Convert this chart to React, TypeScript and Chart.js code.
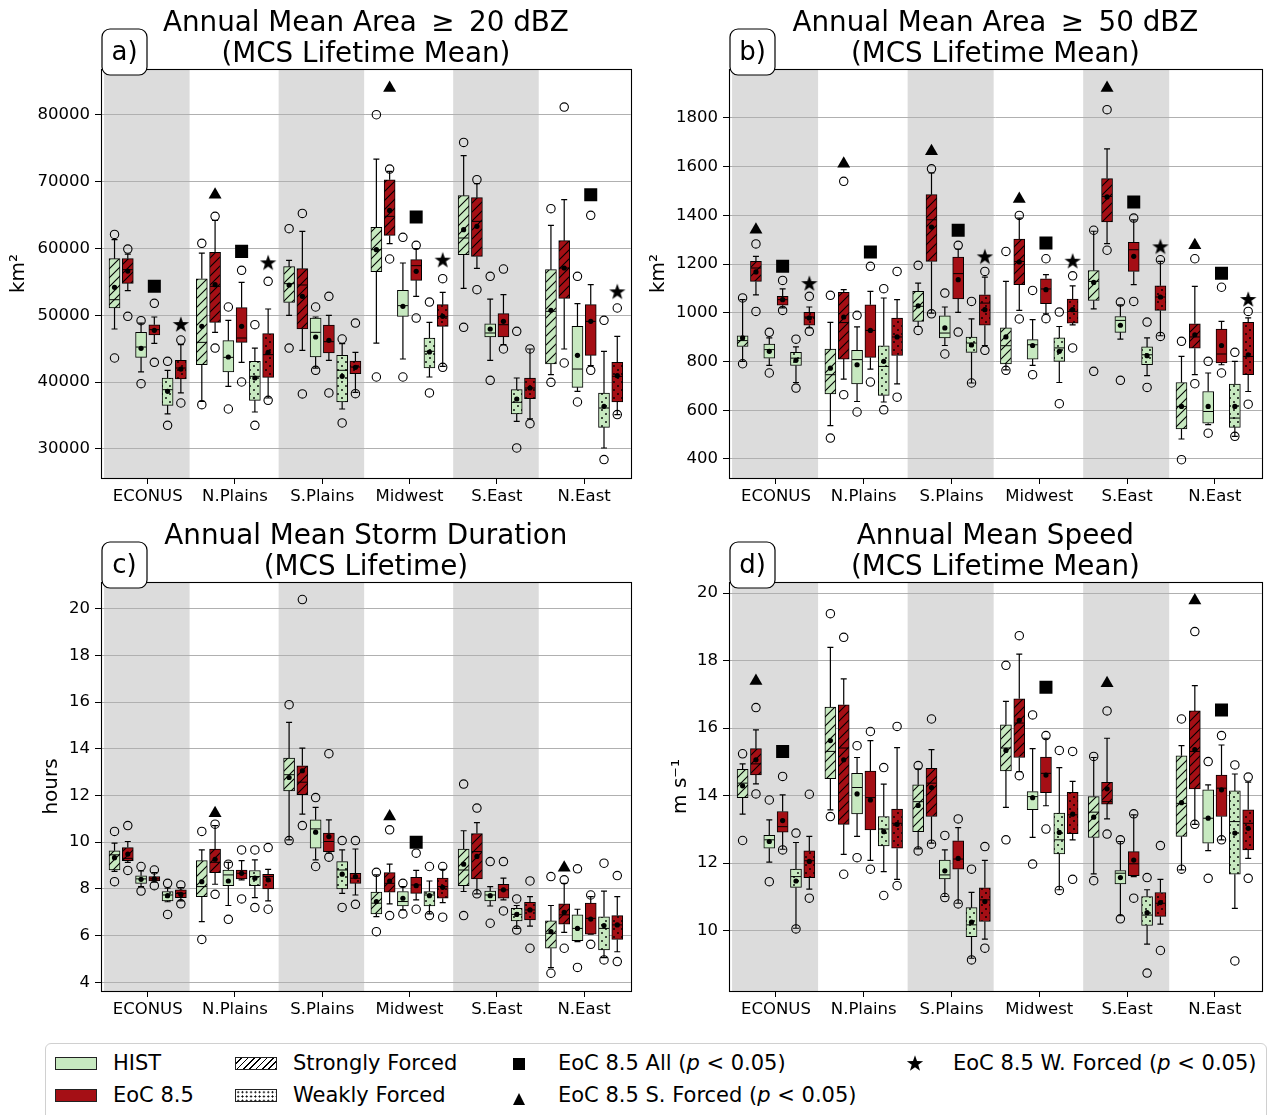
import React, { useEffect, useRef } from "react";
import { Chart, registerables } from "chart.js";

Chart.register(...registerables);
Chart.defaults.font.family = '"DejaVu Sans", sans-serif';

// ---------------- shared categories ----------------
const REGIONS = ["ECONUS", "N.Plains", "S.Plains", "Midwest", "S.East", "N.East"];
// order of the six boxes inside each region
const BOX_ROLES = ["HIST S. Forced", "EoC 8.5 S. Forced", "HIST All", "EoC 8.5 All", "HIST W. Forced", "EoC 8.5 W. Forced"];
const SHADED_REGIONS = [0, 2, 4];

// ---------------- panel a: Area >= 20 dBZ (km^2) ----------------
const A_TICKS = [30000, 40000, 50000, 60000, 70000, 80000];
const A_LO = [
  47950, 53680, 41520, 45800, 35240, 38380,
  37130, 47450, 39370, 42960, 35530, 37630,
  49990, 44760, 42110, 43260, 35980, 38480,
  45850, 60710, 43460, 52830, 40770, 42360,
  54030, 57020, 43260, 45600, 34140, 34490,
  41120, 44960, 38620, 42460, 30150, 35140,
];
const A_Q1 = [
  51090, 54780, 43710, 47050, 36530, 40470,
  42610, 48940, 41520, 45950, 37280, 40720,
  51930, 47950, 43760, 44360, 37030, 41270,
  56520, 61950, 49840, 55230, 42110, 48350,
  59060, 58810, 46750, 46750, 35240, 37530,
  42710, 52530, 39220, 44010, 33240, 37030,
];
const A_MED = [
  52330, 56820, 45250, 47850, 38870, 42110,
  45950, 54330, 43710, 46600, 40870, 44110,
  54730, 54530, 47450, 46050, 41770, 42260,
  59810, 64800, 51440, 57420, 44610, 49840,
  61560, 64050, 47350, 48590, 36980, 39120,
  50590, 57070, 41960, 49090, 36130, 40870,
];
const A_Q3 = [
  58470, 58470, 47450, 48590, 40620, 43260,
  55470, 59410, 46200, 51140, 43110, 47250,
  57270, 56970, 49590, 48540, 44010, 43160,
  63150, 70280, 53730, 58320, 46600, 51590,
  67890, 67590, 48740, 50240, 38870, 40620,
  56820, 61160, 48350, 51590, 38380, 42960,
];
const A_HI = [
  61310, 59160, 48840, 49740, 41770, 45600,
  59310, 64200, 49240, 54930, 45100, 50940,
  58220, 62550, 49740, 49990, 45750, 44460,
  73370, 71530, 57820, 59960, 48940, 53430,
  73870, 69680, 52430, 53080, 40620, 44960,
  63450, 67290, 51730, 54580, 44610, 46850,
];
const A_MEAN = [
  54180, 56620, 45060, 47750, 38620, 41960,
  48350, 54580, 43760, 48350, 40620, 44460,
  54530, 52830, 46750, 46250, 40870, 42210,
  59810, 65690, 51340, 56570, 44510, 49840,
  62800, 63300, 47950, 49090, 37480, 39120,
  50740, 57070, 44010, 49090, 36380, 40970,
];
const A_OUT_HI = [
  62100, 59910, 49190, 51790, 43110, 46300,
  60760, 64800, 51240, 56720, 48590, 55080,
  62950, 65240, 51240, 52830, 46450, 48840,
  80000, 71870, 61660, 60460, 51980, 55470,
  75860, 70280, 55820, 56920, 47600, 44960,
  65940, 81150, 55820, 64950, 49240, 51090,
];
const A_OUT_LO = [
  43610, 49840, 39770, 42960, 33540, 36880,
  36630, 45100, 35980, 40020, 33540, 37280,
  45100, 38230, 41760, 38380, 33890, 38280,
  40770, 58420, 40770, 49590, 38380, 42210,
  48200, 53830, 40270, 44960, 30150, 33790,
  39970, 42860, 37030, 41770, 28410, 35140,
];
const A_SIG_STRONG = [null, 68040, null, 84000, null, null];
const A_SIG_ALL = [54330, 59560, null, 64700, null, 68040];
const A_SIG_WEAK = [48690, 57920, null, 58320, null, 53580];

// ---------------- panel b: Area >= 50 dBZ (km^2) ----------------
const B_TICKS = [400, 600, 800, 1000, 1200, 1400, 1600, 1800];
const B_LO = [
  801, 1074, 784, 1020, 714, 938,
  537, 728, 636, 769, 634, 708,
  944, 999, 866, 1002, 712, 866,
  766, 1010, 784, 996, 714, 951,
  1016, 1284, 892, 1116, 742, 906,
  482, 746, 541, 787, 493, 677,
];
const B_Q1 = [
  862, 1129, 814, 1031, 784, 949,
  667, 810, 708, 817, 661, 825,
  965, 1211, 897, 1057, 838, 949,
  790, 1116, 810, 1038, 801, 958,
  1051, 1373, 920, 1170, 787, 1010,
  523, 855, 547, 794, 530, 746,
];
const B_MED = [
  886, 1184, 849, 1054, 814, 983,
  746, 960, 808, 928, 780, 901,
  1027, 1382, 917, 1161, 876, 1040,
  865, 1211, 869, 1098, 856, 1006,
  1129, 1478, 969, 1259, 828, 1065,
  616, 901, 595, 831, 568, 821,
];
const B_Q3 = [
  906, 1211, 872, 1068, 838, 1002,
  851, 1084, 846, 1033, 865, 979,
  1088, 1485, 988, 1229, 901, 1074,
  938, 1303, 890, 1140, 897, 1057,
  1174, 1551, 985, 1289, 860, 1111,
  714, 955, 677, 933, 708, 961,
];
const B_HI = [
  1054, 1232, 897, 1098, 860, 1024,
  961, 1095, 942, 1088, 1061, 1054,
  1122, 1574, 1024, 1262, 975, 1147,
  1129, 1389, 972, 1157, 944, 1111,
  1335, 1673, 1033, 1382, 897, 1211,
  821, 1109, 753, 965, 801, 979,
];
const B_MEAN = [
  897, 1168, 842, 1054, 805, 979,
  773, 983, 787, 928, 801, 901,
  1029, 1352, 938, 1136, 868, 1013,
  901, 1209, 866, 1095, 842, 1013,
  1125, 1476, 949, 1232, 824, 1065,
  616, 910, 616, 866, 616, 828,
];
const B_OUT_HI = [
  1061, 1283, 920, 1133, 892, 1068,
  1072, 1540, 990, 1191, 1099, 1170,
  1195, 1591, 1081, 1277, 1047, 1170,
  1252, 1400, 1092, 1222, 1003, 1152,
  1339, 1834, 1044, 1389, 962, 1218,
  883, 1222, 801, 1105, 838, 1006,
];
const B_OUT_LO = [
  791, 1006, 753, 1010, 691, 924,
  486, 664, 593, 716, 602, 654,
  928, 996, 831, 921, 712, 846,
  764, 975, 746, 976, 627, 856,
  760, 1257, 723, 1047, 694, 903,
  397, 709, 506, 753, 493, 625,
];
const B_SIG_STRONG = [1341, 1612, 1663, 1467, 1923, 1277];
const B_SIG_ALL = [1191, 1250, 1339, 1287, 1455, 1163];
const B_SIG_WEAK = [1122, null, 1232, 1214, 1273, 1057];

// ---------------- panel c: storm duration (hours) ----------------
const C_TICKS = [4, 6, 8, 10, 12, 14, 16, 18, 20];
const C_LO = [
  8.75, 9.14, 8.10, 8.29, 7.45, 7.49,
  6.60, 8.20, 7.29, 8.39, 7.63, 7.49,
  10.10, 11.20, 9.24, 9.53, 7.81, 7.74,
  6.81, 7.36, 7.10, 7.53, 6.93, 7.41,
  7.89, 7.79, 7.27, 7.53, 6.31, 6.41,
  4.63, 6.14, 5.74, 6.06, 5.06, 5.31,
];
const C_Q1 = [
  8.81, 9.21, 8.24, 8.34, 7.49, 7.63,
  7.67, 8.70, 8.14, 8.43, 8.14, 8.00,
  12.20, 12.03, 9.74, 9.60, 8.00, 8.24,
  6.93, 7.86, 7.27, 7.81, 7.27, 7.60,
  8.14, 8.43, 7.49, 7.60, 6.63, 6.67,
  5.46, 6.49, 5.79, 6.06, 5.39, 5.84,
];
const C_MED = [
  9.46, 9.31, 8.43, 8.43, 7.74, 7.81,
  8.10, 9.14, 8.60, 8.67, 8.53, 8.53,
  12.89, 12.57, 10.57, 10.03, 8.81, 8.46,
  7.39, 8.24, 7.46, 8.17, 7.74, 8.10,
  8.81, 9.60, 7.74, 7.96, 6.91, 7.10,
  6.10, 6.89, 6.31, 6.74, 6.31, 6.46,
];
const C_Q3 = [
  9.63, 9.77, 8.56, 8.53, 7.89, 7.96,
  9.21, 9.71, 8.81, 8.81, 8.79, 8.63,
  13.60, 13.27, 10.96, 10.39, 9.17, 8.67,
  7.86, 8.70, 7.89, 8.50, 7.89, 8.46,
  9.71, 10.37, 7.91, 8.20, 7.17, 7.43,
  6.63, 7.36, 6.89, 7.39, 6.81, 6.86,
];
const C_HI = [
  9.96, 10.03, 8.77, 8.70, 8.03, 8.06,
  9.67, 10.71, 9.14, 9.21, 9.24, 8.84,
  15.13, 14.03, 11.49, 10.96, 9.67, 9.71,
  8.60, 9.06, 8.10, 8.79, 8.34, 8.84,
  10.49, 10.84, 8.10, 8.46, 7.29, 7.67,
  7.29, 8.24, 7.13, 7.67, 7.91, 7.67,
];
const C_MEAN = [
  9.34, 9.49, 8.41, 8.43, 7.71, 7.77,
  8.31, 9.27, 8.34, 8.67, 8.46, 8.39,
  12.77, 13.06, 10.43, 10.24, 8.63, 8.53,
  7.46, 8.34, 7.60, 8.14, 7.71, 8.07,
  9.06, 9.39, 7.71, 7.96, 6.91, 7.10,
  6.17, 7.00, 6.31, 6.71, 6.43, 6.46,
];
const C_OUT_HI = [
  10.46, 10.71, 8.96, 8.81, 8.24, 8.17,
  10.46, 10.77, 9.06, 9.67, 9.67, 9.77,
  15.89, 20.39, 11.91, 13.79, 10.07, 10.07,
  8.71, 10.53, 8.24, 9.53, 8.96, 8.96,
  12.49, 11.46, 9.17, 9.17, 7.57, 8.34,
  8.53, 8.39, 8.86, 7.74, 9.10, 8.57,
];
const C_OUT_LO = [
  8.31, 8.79, 7.91, 8.14, 6.91, 7.36,
  5.84, 7.77, 6.70, 7.57, 7.20, 7.13,
  10.07, 10.71, 8.96, 9.36, 7.21, 7.34,
  6.17, 6.86, 6.93, 7.13, 6.86, 6.79,
  6.86, 7.79, 6.53, 7.06, 6.24, 5.46,
  4.39, 5.46, 4.64, 5.63, 4.96, 4.89,
];
const C_SIG_STRONG = [null, 11.24, null, 11.1, null, 8.91];
const C_SIG_ALL = [null, null, null, 10.0, null, null];
const C_SIG_WEAK = [null, null, null, null, null, null];

// ---------------- panel d: speed (m s^-1) ----------------
const D_TICKS = [10, 12, 14, 16, 18, 20];
const D_LO = [
  13.45, 14.35, 12.03, 12.41, 10.07, 11.23,
  13.58, 12.26, 12.79, 12.08, 11.75, 11.52,
  12.42, 12.59, 11.01, 10.81, 9.18, 9.75,
  13.65, 14.71, 12.76, 13.70, 11.21, 12.69,
  11.68, 13.31, 10.44, 11.60, 9.60, 10.19,
  11.80, 13.15, 12.37, 12.69, 10.66, 12.14,
];
const D_Q1 = [
  13.94, 14.61, 12.44, 12.92, 11.28, 11.57,
  14.50, 13.15, 13.46, 12.98, 12.51, 12.44,
  12.93, 13.38, 11.53, 11.82, 9.82, 10.27,
  14.73, 15.13, 13.58, 14.09, 12.27, 12.87,
  12.76, 13.75, 11.38, 11.63, 10.15, 10.42,
  12.79, 14.20, 12.59, 13.38, 11.67, 12.39,
];
const D_MED = [
  14.37, 14.94, 12.69, 13.08, 11.60, 12.07,
  15.31, 15.41, 14.24, 13.94, 13.01, 13.18,
  13.82, 14.37, 11.65, 12.12, 10.17, 10.91,
  15.41, 16.15, 13.97, 14.66, 12.69, 13.43,
  13.51, 13.82, 11.70, 11.98, 10.46, 10.81,
  13.77, 15.31, 13.33, 14.22, 13.23, 13.18,
];
const D_Q3 = [
  14.78, 15.39, 12.82, 13.53, 11.82, 12.36,
  16.62, 16.69, 14.66, 14.73, 13.38, 13.60,
  14.32, 14.81, 12.09, 12.66, 10.68, 11.27,
  16.10, 16.87, 14.12, 15.14, 13.48, 14.10,
  13.97, 14.39, 11.78, 12.34, 11.01, 11.13,
  15.18, 16.51, 14.17, 14.61, 14.14, 13.58,
];
const D_HI = [
  14.94, 15.95, 13.28, 14.02, 12.61, 12.79,
  18.39, 17.46, 15.13, 15.63, 14.34, 15.42,
  14.79, 15.36, 12.39, 13.05, 11.13, 12.08,
  16.79, 18.19, 15.39, 15.70, 14.83, 14.42,
  15.13, 15.70, 12.64, 13.43, 11.21, 11.52,
  15.48, 17.26, 14.32, 15.50, 14.64, 14.40,
];
const D_MEAN = [
  14.29, 15.06, 12.64, 13.26, 11.47, 12.05,
  15.63, 15.06, 14.05, 13.87, 12.93, 13.15,
  13.71, 14.24, 11.77, 12.14, 10.25, 10.86,
  15.34, 16.23, 13.94, 14.61, 12.91, 13.45,
  13.36, 14.20, 11.57, 12.09, 10.53, 10.83,
  13.79, 15.36, 13.33, 14.17, 12.89, 13.03,
];
const D_OUT_HI = [
  15.24, 16.61, 13.87, 14.57, 12.89, 14.04,
  19.39, 18.69, 15.48, 15.90, 14.83, 16.05,
  14.89, 16.27, 12.82, 13.31, 11.82, 12.49,
  17.86, 18.74, 16.39, 15.78, 15.34, 15.31,
  15.16, 16.51, 12.69, 13.46, 11.57, 12.52,
  16.27, 18.86, 15.01, 15.78, 14.91, 14.55,
];
const D_OUT_LO = [
  12.67, 14.05, 11.45, 12.39, 10.05, 10.96,
  13.38, 11.67, 12.16, 11.82, 11.04, 11.33,
  12.36, 12.56, 10.98, 10.79, 9.13, 9.48,
  12.69, 14.59, 11.97, 13.01, 11.19, 11.52,
  11.48, 12.86, 10.35, 10.96, 8.74, 9.41,
  11.82, 13.15, 11.55, 12.69, 9.10, 11.55,
];
const D_SIG_STRONG = [17.4, null, null, null, 17.33, 19.78];
const D_SIG_ALL = [15.31, null, null, 17.21, null, 16.54];
const D_SIG_WEAK = [null, null, null, null, null, null];

// ---------------- styling ----------------
const HIST_COLOR = "#c7e9c0";
const EOC_COLOR = "#a50f15";
const BAND_COLOR = "#dcdcdc";
const GRID_COLOR = "#b0b0b0";
const BOX_OFFSETS = [-0.38, -0.228, -0.076, 0.076, 0.228, 0.38];
const X_MIN = -0.535;
const X_MAX = 5.535;
const X_AXIS_H = 32;

const PANELS: any[] = [
  {
    id: "a", label: "a)", title: ["Annual Mean Area \u2009\u2265\u2009 20 dBZ", "(MCS Lifetime Mean)"], yTitle: "km\u00b2",
    yMin: 25660, yMax: 86840, ticks: A_TICKS,
    lo: A_LO, q1: A_Q1, med: A_MED, q3: A_Q3, hi: A_HI, mean: A_MEAN, outHi: A_OUT_HI, outLo: A_OUT_LO,
    sigStrong: A_SIG_STRONG, sigAll: A_SIG_ALL, sigWeak: A_SIG_WEAK,
    left: 0, top: 0, w: 640, h: 515, area: { l: 101, t: 69, r: 633, b: 478 }, yTitlePad: 7,
  },
  {
    id: "b", label: "b)", title: ["Annual Mean Area \u2009\u2265\u2009 50 dBZ", "(MCS Lifetime Mean)"], yTitle: "km\u00b2",
    yMin: 322, yMax: 2001, ticks: B_TICKS,
    lo: B_LO, q1: B_Q1, med: B_MED, q3: B_Q3, hi: B_HI, mean: B_MEAN, outHi: B_OUT_HI, outLo: B_OUT_LO,
    sigStrong: B_SIG_STRONG, sigAll: B_SIG_ALL, sigWeak: B_SIG_WEAK,
    left: 640, top: 0, w: 631, h: 515, area: { l: 89, t: 69, r: 622, b: 478 }, yTitlePad: 7,
  },
  {
    id: "c", label: "c)", title: ["Annual Mean Storm Duration", "(MCS Lifetime)"], yTitle: "hours",
    yMin: 3.63, yMax: 21.14, ticks: C_TICKS,
    lo: C_LO, q1: C_Q1, med: C_MED, q3: C_Q3, hi: C_HI, mean: C_MEAN, outHi: C_OUT_HI, outLo: C_OUT_LO,
    sigStrong: C_SIG_STRONG, sigAll: C_SIG_ALL, sigWeak: C_SIG_WEAK,
    left: 0, top: 515, w: 640, h: 520, area: { l: 101, t: 67, r: 633, b: 476 }, yTitlePad: 40,
  },
  {
    id: "d", label: "d)", title: ["Annual Mean Speed", "(MCS Lifetime Mean)"], yTitle: "m s\u207b\u00b9",
    yMin: 8.21, yMax: 20.33, ticks: D_TICKS,
    lo: D_LO, q1: D_Q1, med: D_MED, q3: D_Q3, hi: D_HI, mean: D_MEAN, outHi: D_OUT_HI, outLo: D_OUT_LO,
    sigStrong: D_SIG_STRONG, sigAll: D_SIG_ALL, sigWeak: D_SIG_WEAK,
    left: 640, top: 515, w: 631, h: 520, area: { l: 89, t: 67, r: 622, b: 476 }, yTitlePad: 29,
  },
];

// ---------------- patterns & markers ----------------
function makeHatch(ctx: CanvasRenderingContext2D, base: string) {
  const s = 9;
  const c = document.createElement("canvas");
  c.width = s; c.height = s;
  const g = c.getContext("2d")!;
  g.fillStyle = base; g.fillRect(0, 0, s, s);
  g.strokeStyle = "#000"; g.lineWidth = 1.1;
  g.beginPath();
  g.moveTo(-1, s + 1); g.lineTo(s + 1, -1);
  g.moveTo(-2, 2); g.lineTo(2, -2);
  g.moveTo(s - 2, s + 2); g.lineTo(s + 2, s - 2);
  g.stroke();
  return ctx.createPattern(c, "repeat");
}
function makeDots(ctx: CanvasRenderingContext2D, base: string) {
  const s = 8;
  const c = document.createElement("canvas");
  c.width = s; c.height = s;
  const g = c.getContext("2d")!;
  g.fillStyle = base; g.fillRect(0, 0, s, s);
  g.fillStyle = "#000";
  [[2, 2], [6, 6]].forEach(([x, y]) => { g.beginPath(); g.arc(x, y, 0.95, 0, Math.PI * 2); g.fill(); });
  return ctx.createPattern(c, "repeat");
}
function makeStar() {
  const c = document.createElement("canvas");
  c.width = 20; c.height = 20;
  const g = c.getContext("2d")!;
  g.beginPath();
  for (let i = 0; i < 10; i++) {
    const R = i % 2 === 0 ? 8.6 : 3.4;
    const a = -Math.PI / 2 + (i * Math.PI) / 5;
    const px = 10 + R * Math.cos(a), py = 10.8 + R * Math.sin(a);
    if (i === 0) g.moveTo(px, py); else g.lineTo(px, py);
  }
  g.closePath();
  g.fillStyle = "#000"; g.fill();
  return c;
}

// ---------------- plugins ----------------
const boxPartsPlugin = {
  id: "boxParts",
  afterDatasetDraw(chart: any, args: any) {
    const ds = chart.data.datasets[args.index];
    if (!ds.boxStats) return;
    const xs = chart.scales.x, ys = chart.scales.y, ctx = chart.ctx;
    ctx.save();
    ctx.strokeStyle = "#000";
    ds.boxStats.forEach((s: any) => {
      const px = xs.getPixelForValue(s.x);
      const y = (v: number) => ys.getPixelForValue(v);
      ctx.lineWidth = 1.2;
      ctx.beginPath();
      ctx.moveTo(px, y(s.q3)); ctx.lineTo(px, y(s.hi));
      ctx.moveTo(px, y(s.q1)); ctx.lineTo(px, y(s.lo));
      ctx.moveTo(px - 3, y(s.hi)); ctx.lineTo(px + 3, y(s.hi));
      ctx.moveTo(px - 3, y(s.lo)); ctx.lineTo(px + 3, y(s.lo));
      ctx.stroke();
      ctx.lineWidth = 1;
      ctx.beginPath();
      ctx.moveTo(px - 5, y(s.med)); ctx.lineTo(px + 5, y(s.med));
      ctx.stroke();
    });
    ctx.restore();
  },
};

const decorPlugin = {
  id: "decor",
  beforeDraw(chart: any) {
    const { ctx, chartArea: a } = chart;
    const xs = chart.scales.x;
    ctx.save();
    ctx.fillStyle = BAND_COLOR;
    SHADED_REGIONS.forEach((r) => {
      const x0 = xs.getPixelForValue(Math.max(X_MIN, r - 0.5));
      const x1 = xs.getPixelForValue(r + 0.48);
      ctx.fillRect(x0, a.top, x1 - x0, a.bottom - a.top);
    });
    ctx.restore();
  },
  afterDraw(chart: any, _args: any, opts: any) {
    const { ctx, chartArea: a } = chart;
    ctx.save();
    // spines
    ctx.strokeStyle = "#000"; ctx.lineWidth = 1.1;
    ctx.strokeRect(Math.round(a.left) + 0.5, Math.round(a.top) + 0.5, Math.round(a.right - a.left), Math.round(a.bottom - a.top));
    // title
    ctx.fillStyle = "#000";
    ctx.font = '27.8px "DejaVu Sans"';
    ctx.textAlign = "center"; ctx.textBaseline = "alphabetic";
    const cx = (a.left + a.right) / 2;
    ctx.fillText(opts.title[0], cx, a.top - 38);
    ctx.fillText(opts.title[1], cx, a.top - 7);
    // panel label box
    const bx = a.left + 1, by = a.top - 40, bw = 45, bh = 46;
    ctx.beginPath();
    if (ctx.roundRect) ctx.roundRect(bx, by, bw, bh, 8); else ctx.rect(bx, by, bw, bh);
    ctx.fillStyle = "#fff"; ctx.fill();
    ctx.strokeStyle = "#000"; ctx.lineWidth = 1.2; ctx.stroke();
    ctx.fillStyle = "#000"; ctx.textBaseline = "middle";
    ctx.font = '26px "DejaVu Sans"';
    ctx.fillText(opts.label, bx + bw / 2, by + bh / 2 + 1);
    ctx.restore();
  },
};

// ---------------- chart config ----------------
function buildConfig(canvas: HTMLCanvasElement, p: any) {
  const ctx = canvas.getContext("2d")!;
  const datasets: any[] = [];
  for (let k = 0; k < 6; k++) {
    const base = k % 2 === 1 ? EOC_COLOR : HIST_COLOR;
    const fill = k < 2 ? makeHatch(ctx, base) : k < 4 ? base : makeDots(ctx, base);
    const stats = REGIONS.map((_, r) => {
      const i = r * 6 + k;
      return { x: r + BOX_OFFSETS[k], lo: p.lo[i], q1: p.q1[i], med: p.med[i], q3: p.q3[i], hi: p.hi[i] };
    });
    datasets.push({
      type: "bar",
      label: BOX_ROLES[k],
      data: stats.map((s) => ({ x: s.x, y: [s.q1, s.q3] })),
      backgroundColor: fill,
      borderColor: "#000",
      borderWidth: 1,
      borderSkipped: false,
      barThickness: 11,
      grouped: false,
      order: 5,
      boxStats: stats,
    });
  }
  const means: any[] = [];
  const outliers: any[] = [];
  REGIONS.forEach((_, r) => {
    for (let k = 0; k < 6; k++) {
      const i = r * 6 + k;
      const x = r + BOX_OFFSETS[k];
      means.push({ x, y: p.mean[i] });
      outliers.push({ x, y: p.outHi[i] });
      outliers.push({ x, y: p.outLo[i] });
    }
  });
  const markerPts = (arr: any[], k: number) =>
    arr.map((v, r) => (v == null ? null : { x: r + BOX_OFFSETS[k], y: v })).filter((d) => d);

  datasets.push({
    type: "scatter", label: "outliers", data: outliers, order: 2,
    pointRadius: 4.2, pointBorderWidth: 1.1, pointBorderColor: "#000", pointBackgroundColor: "rgba(0,0,0,0)",
  });
  datasets.push({
    type: "scatter", label: "means", data: means, order: 1,
    pointRadius: 2.6, pointBorderWidth: 0, pointBackgroundColor: "#000",
  });
  datasets.push({
    type: "scatter", label: "EoC 8.5 S. Forced (p < 0.05)", data: markerPts(p.sigStrong, 1), order: 1,
    pointStyle: "triangle", pointRadius: 7.5, pointBorderWidth: 0, pointBackgroundColor: "#000",
  });
  datasets.push({
    type: "scatter", label: "EoC 8.5 All (p < 0.05)", data: markerPts(p.sigAll, 3), order: 1,
    pointStyle: "rect", pointRadius: 9.2, pointBorderWidth: 0, pointBackgroundColor: "#000",
  });
  datasets.push({
    type: "scatter", label: "EoC 8.5 W. Forced (p < 0.05)", data: markerPts(p.sigWeak, 5), order: 1,
    pointStyle: makeStar(), pointRadius: 9, pointBorderWidth: 0, pointBackgroundColor: "#000",
  });

  return {
    type: "bar",
    data: { datasets },
    plugins: [decorPlugin, boxPartsPlugin],
    options: {
      responsive: false,
      animation: false,
      devicePixelRatio: 1,
      events: [],
      layout: {
        padding: { left: 0, top: p.area.t, right: p.w - p.area.r, bottom: p.h - p.area.b - X_AXIS_H },
      },
      plugins: {
        legend: { display: false },
        tooltip: { enabled: false },
        title: { display: false },
        decor: { title: p.title, label: p.label },
      },
      scales: {
        x: {
          type: "linear",
          min: X_MIN,
          max: X_MAX,
          offset: false,
          afterBuildTicks: (s: any) => { s.ticks = REGIONS.map((_, i) => ({ value: i })); },
          afterFit: (s: any) => { s.height = X_AXIS_H; },
          ticks: {
            autoSkip: false, maxRotation: 0, minRotation: 0, padding: 3, color: "#000",
            font: { size: 16.5 },
            callback: (v: any) => REGIONS[Math.round(v)] ?? "",
          },
          grid: { drawOnChartArea: false, drawTicks: true, tickLength: 6, tickColor: "#000", offset: false },
          border: { display: false },
        },
        y: {
          type: "linear",
          min: p.yMin,
          max: p.yMax,
          afterBuildTicks: (s: any) => { s.ticks = p.ticks.map((v: number) => ({ value: v })); },
          afterFit: (s: any) => { s.width = p.area.l; },
          ticks: { padding: 5, color: "#000", font: { size: 16.5 }, callback: (v: any) => String(v) },
          grid: { color: GRID_COLOR, lineWidth: 1, drawTicks: true, tickLength: 6, tickColor: "#000" },
          border: { display: false },
          title: {
            display: true, text: p.yTitle, color: "#000", font: { size: 20 },
            padding: { top: p.yTitlePad, bottom: 0 },
          },
        },
      },
    },
  };
}

function Panel({ p }: { p: any }) {
  const ref = useRef<HTMLCanvasElement>(null);
  useEffect(() => {
    const canvas = ref.current!;
    const chart = new Chart(canvas, buildConfig(canvas, p) as any);
    return () => chart.destroy();
  }, [p]);
  return (
    <canvas
      ref={ref}
      width={p.w}
      height={p.h}
      style={{ position: "absolute", left: p.left, top: p.top, width: p.w, height: p.h }}
    />
  );
}

// ---------------- legend (HTML) ----------------
const LEGEND_FONT: any = { fontFamily: '"DejaVu Sans", sans-serif', fontSize: 21, color: "#000", whiteSpace: "nowrap" };

function LegendText({ x, y, children }: any) {
  return (
    <div style={{ ...LEGEND_FONT, position: "absolute", left: x, top: y - 13, height: 26, lineHeight: "26px" }}>
      {children}
    </div>
  );
}
function Patch({ x, y, style }: any) {
  return (
    <div
      style={{
        position: "absolute", left: x, top: y - 6.5, width: 42, height: 13, boxSizing: "border-box",
        border: "1px solid #222", ...style,
      }}
    />
  );
}
function Marker({ cx, cy, kind }: any) {
  let shape: any = null;
  if (kind === "square") shape = <rect x={4} y={4} width={12} height={12} fill="#000" />;
  if (kind === "triangle") shape = <polygon points="10,4 16,16 4,16" fill="#000" />;
  if (kind === "star") {
    const pts: string[] = [];
    for (let i = 0; i < 10; i++) {
      const R = i % 2 === 0 ? 8.6 : 3.4;
      const a = -Math.PI / 2 + (i * Math.PI) / 5;
      pts.push(`${(10 + R * Math.cos(a)).toFixed(2)},${(10.8 + R * Math.sin(a)).toFixed(2)}`);
    }
    shape = <polygon points={pts.join(" ")} fill="#000" />;
  }
  return (
    <svg width={20} height={20} style={{ position: "absolute", left: cx - 10, top: cy - 10 }}>
      {shape}
    </svg>
  );
}
const P = () => <span style={{ fontStyle: "italic" }}>p</span>;

function Legend() {
  const r1 = 1063, r2 = 1095;
  return (
    <>
      <div
        style={{
          position: "absolute", left: 45, top: 1043, width: 1222, height: 90, boxSizing: "border-box",
          border: "1px solid #d0d0d0", borderRadius: 6, background: "#fff",
        }}
      />
      <Patch x={55} y={r1} style={{ background: HIST_COLOR }} />
      <LegendText x={113} y={r1}>HIST</LegendText>
      <Patch x={55} y={r2} style={{ background: EOC_COLOR }} />
      <LegendText x={113} y={r2}>EoC 8.5</LegendText>
      <Patch
        x={235}
        y={r1}
        style={{ background: "repeating-linear-gradient(135deg, #fff 0px, #fff 3.3px, #000 3.3px, #000 4.5px)" }}
      />
      <LegendText x={293} y={r1}>Strongly Forced</LegendText>
      <Patch
        x={235}
        y={r2}
        style={{
          backgroundColor: "#fff",
          backgroundImage: "radial-gradient(circle, #000 0.8px, rgba(0,0,0,0) 1.1px)",
          backgroundSize: "4.3px 4.3px",
        }}
      />
      <LegendText x={293} y={r2}>Weakly Forced</LegendText>
      <Marker cx={519} cy={r1 + 1} kind="square" />
      <LegendText x={558} y={r1}>EoC 8.5 All (<P /> &lt; 0.05)</LegendText>
      <Marker cx={519} cy={r2 + 4} kind="triangle" />
      <LegendText x={558} y={r2}>EoC 8.5 S. Forced (<P /> &lt; 0.05)</LegendText>
      <Marker cx={915} cy={r1} kind="star" />
      <LegendText x={953} y={r1}>EoC 8.5 W. Forced (<P /> &lt; 0.05)</LegendText>
    </>
  );
}

export default function App() {
  return (
    <div
      style={{
        position: "absolute", left: 0, top: 0, width: 1271, height: 1115, overflow: "hidden", background: "#fff",
        fontFamily: '"DejaVu Sans", sans-serif',
      }}
    >
      {PANELS.map((p) => (
        <Panel key={p.id} p={p} />
      ))}
      <Legend />
    </div>
  );
}
